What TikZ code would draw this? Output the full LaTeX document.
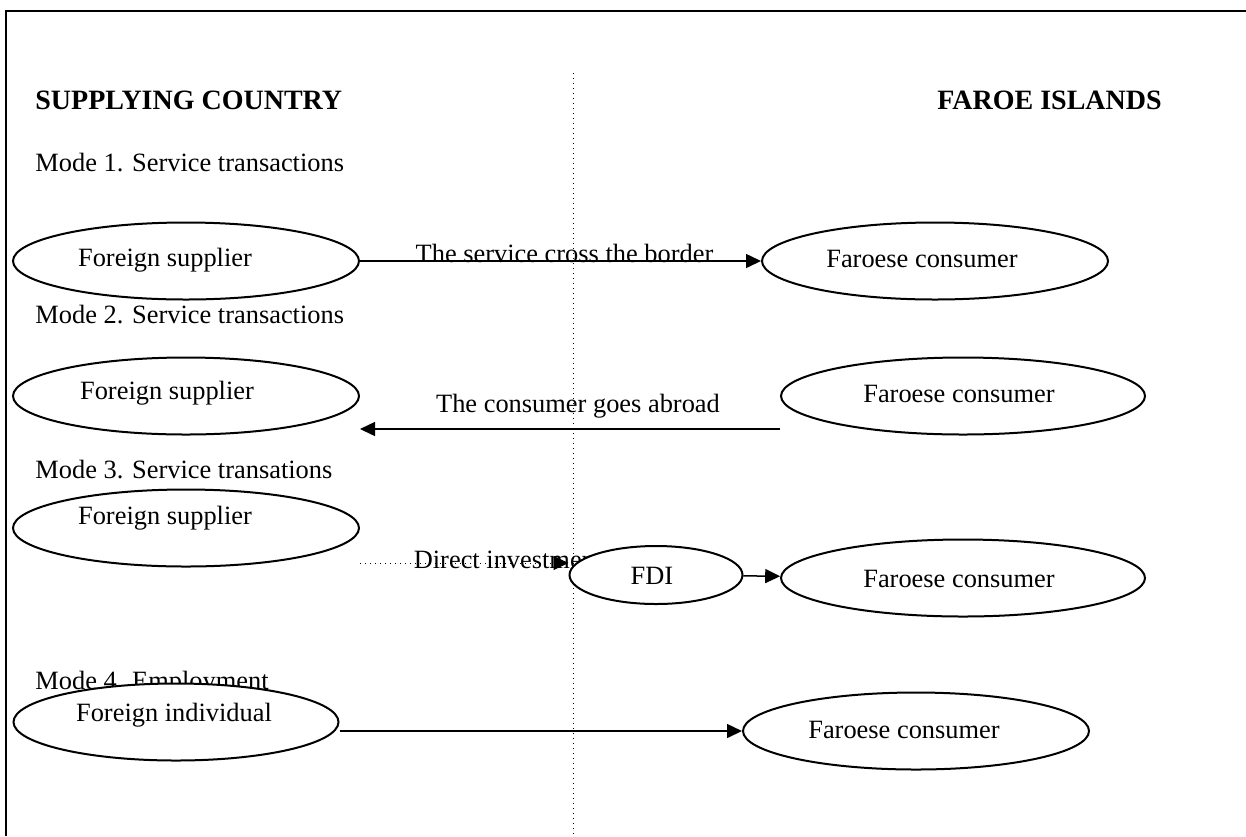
\documentclass[tikz,border=0pt]{standalone}
\usepackage{fontspec}
\setmainfont{Liberation Serif}
\usetikzlibrary{shapes.geometric, arrows.meta, backgrounds}

\begin{document}
\begin{tikzpicture}[
    x=0.5pt, y=-0.5pt,
    font=\fontsize{13.2}{15}\selectfont,
    oval/.style={ellipse, draw=black, fill=white, line width=1pt, inner sep=0pt,
        minimum width=173pt, minimum height=38.5pt},
    wide oval/.style={oval, minimum width=182pt},
    heading/.style={anchor=west, inner sep=0pt, font=\fontsize{14}{16}\selectfont\bfseries},
    mode/.style={anchor=west, inner sep=0pt},
    flow/.style={line width=0.75pt, -{Triangle[length=7.5pt, width=7pt]}},
    weak flow/.style={flow, line width=0.5pt, dotted}
]
\useasboundingbox (0,0) rectangle (1246,836);

% --- frame and border between the two countries ---
\draw[line width=1.2pt] (1246,11) -- (6,11) -- (6,836);
\draw[dotted, line width=0.5pt] (573,73) -- (573,836);

% --- headings ---
\node[heading] (home) at (35,100) {SUPPLYING COUNTRY};
\node[heading] (host) at (937,100) {FAROE ISLANDS};

% --- Mode 1: cross-border supply ---
\node[mode] (m1) at (35,163) {Mode 1. Service transactions};
\node[oval, label={[shift={(-21,-1)}]center:Foreign supplier}] (sup1) at (186,261) {};
\node[oval, label={[shift={(-13,-2)}]center:Faroese consumer}] (con1) at (935,261) {};

% --- Mode 2: consumption abroad ---
\node[mode] (m2) at (35,315) {Mode 2. Service transactions};
\node[oval, label={[shift={(-19,-3)}]center:Foreign supplier}] (sup2) at (186,396) {};
\node[wide oval, label={[shift={(-4,-2)}]center:Faroese consumer}] (con2) at (963,396) {};

% --- Mode 3: commercial presence ---
\node[mode] (m3) at (35,470) {Mode 3. Service transations};
\node[oval, label={[shift={(-21,-10)}]center:Foreign supplier}] (sup3) at (186,528) {};
\node[oval, minimum width=86.5pt, minimum height=29pt,
    label={[shift={(-4,1)}]center:FDI}] (fdi) at (656,575) {};
\node[wide oval, label={[shift={(-4,1)}]center:Faroese consumer}] (con3) at (963,578) {};

% --- Mode 4: presence of natural persons ---
\node[mode] (m4) at (35,683) {Mode 4. Employment};
\node[oval, minimum width=162.5pt, label={[shift={(-2,-7)}]center:Foreign individual}] (fi) at (176,722) {};
\node[oval, label={[shift={(-12,-1)}]center:Faroese consumer}] (con4) at (916,731) {};

% --- flows, kept behind the ovals ---
\begin{pgfonlayer}{background}
\draw[flow] (sup1) -- (con1) node[midway, xshift=2pt, yshift=4pt] {The service cross the border};
\draw[flow] ([yshift=-16.5pt]con2.west) -- ([yshift=-16.5pt]sup2.east)
    node[midway, xshift=4pt, yshift=11.5pt] {The consumer goes abroad};
\draw[weak flow] ([yshift=-17.5pt]sup3.east) -- ([yshift=6pt]fdi.west)
    node[pos=0.71, yshift=1.5pt] {Direct investment};
\draw[flow] (fdi) -- (con3);
\draw[flow] (fi.east |- con4.west) -- (con4.west);
\end{pgfonlayer}

\end{tikzpicture}
\end{document}
